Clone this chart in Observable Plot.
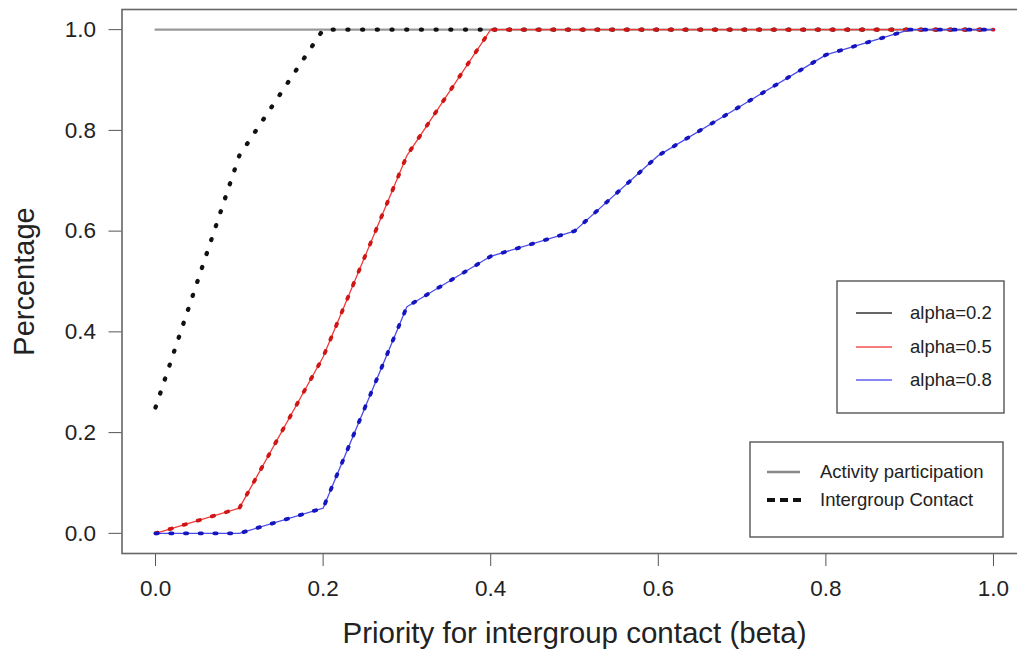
<!DOCTYPE html>
<html>
<head>
<meta charset="utf-8">
<script src="https://cdn.jsdelivr.net/npm/d3@7"></script>
<script src="https://cdn.jsdelivr.net/npm/@observablehq/plot@0.6"></script>
<style>
  body { margin: 0; background: white; }
  #wrap { position: relative; width: 1017px; height: 650px; overflow: hidden; font-family: "Liberation Sans", Arial, sans-serif; }
  #legend { position: absolute; left: 0; top: 0; }
</style>
</head>
<body>
<div id="wrap"></div>
<script>
// ---- data ----
const beta = [0, 0.1, 0.2, 0.3, 0.4, 0.5, 0.6, 0.7, 0.8, 0.9, 1.0];
const activity02 = [1, 1, 1, 1, 1, 1, 1, 1, 1, 1, 1];
const contact02  = [0.25, 0.75, 1, 1, 1, 1, 1, 1, 1, 1, 1];
const activity05 = [0, 0.05, 0.35, 0.75, 1, 1, 1, 1, 1, 1, 1];
const contact05  = [0, 0.05, 0.35, 0.75, 1, 1, 1, 1, 1, 1, 1];
const activity08 = [0, 0, 0.05, 0.45, 0.55, 0.6, 0.75, 0.85, 0.95, 1, 1];
const contact08  = [0, 0, 0.05, 0.45, 0.55, 0.6, 0.75, 0.85, 0.95, 1, 1];
const xTicks = [0, 0.2, 0.4, 0.6, 0.8, 1.0];
const yTicks = [0, 0.2, 0.4, 0.6, 0.8, 1.0];
const alphaLabels = ["alpha=0.2", "alpha=0.5", "alpha=0.8"];
const alphaColors = ["#333333", "#f05050", "#6060f0"];
const typeLabels = ["Activity participation", "Intergroup Contact"];
const xTitle = "Priority for intergroup contact (beta)";
const yTitle = "Percentage";

const rows = ys => beta.map((b, i) => ({beta: b, value: ys[i]}));

const dot = {strokeWidth: 4.3, strokeDasharray: "1,13.7", strokeLinecap: "round"};

const chart = Plot.plot({
  width: 1017,
  height: 650,
  marginLeft: 121.5,
  marginRight: -9.5,
  marginTop: 9,
  marginBottom: 97,
  style: {fontFamily: "'Liberation Sans', Arial, sans-serif", color: "#222", background: "white"},
  x: {domain: [-0.04, 1.04]},
  y: {domain: [-0.04, 1.04]},
  marks: [
    Plot.axisX({ticks: xTicks, tickFormat: d3.format(".1f"), tickSize: 13, tickPadding: 14, fontSize: 22.5, stroke: "#555", fill: "#222", label: null}),
    Plot.axisY({ticks: yTicks, tickFormat: d3.format(".1f"), tickSize: 13, tickPadding: 13, fontSize: 22.5, stroke: "#555", fill: "#222", label: null}),
    Plot.line(rows(activity02), {x: "beta", y: "value", stroke: "#999", strokeWidth: 2.2}),
    Plot.line(rows(contact02), {x: "beta", y: "value", stroke: "#111", ...dot}),
    Plot.line(rows(activity05), {x: "beta", y: "value", stroke: "#f03a3a", strokeWidth: 1.3}),
    Plot.line(rows(contact05), {x: "beta", y: "value", stroke: "#d01515", strokeWidth: 3.8, strokeDasharray: "2.3,12.4", strokeLinecap: "round"}),
    Plot.line(rows(activity08), {x: "beta", y: "value", stroke: "#4a4ae8", strokeWidth: 1.3}),
    Plot.line(rows(contact08), {x: "beta", y: "value", stroke: "#1515c0", strokeWidth: 3.8, strokeDasharray: "2.3,12.4", strokeLinecap: "round"}),
    Plot.frame({stroke: "#666", strokeWidth: 1.6}),
    Plot.text([yTitle], {text: d => d, frameAnchor: "left", dx: -97, rotate: -90, fontSize: 29, fill: "#222", textAnchor: "middle", lineAnchor: "middle"}),
    Plot.text([xTitle], {text: d => d, frameAnchor: "bottom", dy: 80, fontSize: 29.5, fill: "#222", textAnchor: "middle", lineAnchor: "middle"})
  ]
});
document.getElementById("wrap").appendChild(chart);

// ---- legends (overlay) ----
const svg = d3.select("#wrap").append("svg").attr("id", "legend")
  .attr("width", 1017).attr("height", 650)
  .style("font-family", "'Liberation Sans', Arial, sans-serif");

// legend 1
const l1 = {x: 837, y: 281, w: 167, h: 132, ys: [313, 347, 380]};
svg.append("rect").attr("x", l1.x).attr("y", l1.y).attr("width", l1.w).attr("height", l1.h)
  .attr("fill", "white").attr("stroke", "#555").attr("stroke-width", 1.4);
alphaLabels.forEach((lab, i) => {
  svg.append("line").attr("x1", 856).attr("x2", 892).attr("y1", l1.ys[i]).attr("y2", l1.ys[i])
    .attr("stroke", alphaColors[i]).attr("stroke-width", 1.6);
  svg.append("text").attr("x", 910).attr("y", l1.ys[i]).attr("dy", "0.35em")
    .attr("font-size", 18.5).attr("fill", "#222").text(lab);
});

// legend 2
const l2 = {x: 750, y: 442, w: 253, h: 95, ys: [472, 500]};
svg.append("rect").attr("x", l2.x).attr("y", l2.y).attr("width", l2.w).attr("height", l2.h)
  .attr("fill", "white").attr("stroke", "#555").attr("stroke-width", 1.4);
svg.append("line").attr("x1", 767).attr("x2", 800).attr("y1", l2.ys[0]).attr("y2", l2.ys[0])
  .attr("stroke", "#888").attr("stroke-width", 2.5);
svg.append("line").attr("x1", 767).attr("x2", 801).attr("y1", l2.ys[1]).attr("y2", l2.ys[1])
  .attr("stroke", "#111").attr("stroke-width", 4).attr("stroke-dasharray", "8,5");
typeLabels.forEach((lab, i) => {
  svg.append("text").attr("x", 820).attr("y", l2.ys[i]).attr("dy", "0.35em")
    .attr("font-size", 18.5).attr("fill", "#222").text(lab);
});
</script>
</body>
</html>
